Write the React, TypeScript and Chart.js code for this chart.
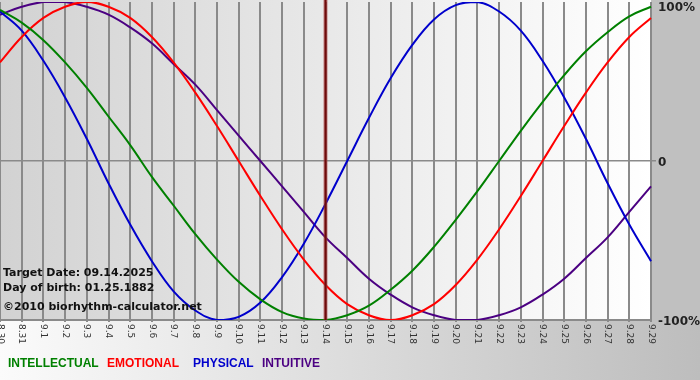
import { useEffect, useRef } from 'react';
import { Chart, registerables } from 'chart.js';

Chart.register(...registerables);

const dayLabels = [
  '8.30', '8.31', '9.1', '9.2', '9.3', '9.4', '9.5', '9.6', '9.7', '9.8', '9.9',
  '9.10', '9.11', '9.12', '9.13', '9.14', '9.15', '9.16', '9.17', '9.18', '9.19',
  '9.20', '9.21', '9.22', '9.23', '9.24', '9.25', '9.26', '9.27', '9.28', '9.29',
];

const intellectual = [
  0.95, 0.87, 0.76, 0.62, 0.46, 0.28, 0.10, -0.10, -0.28, -0.46, -0.62, -0.76, -0.87, -0.95, -0.99,
  -1.00, -0.97, -0.91, -0.81, -0.69, -0.54, -0.37, -0.19, 0, 0.19, 0.37, 0.54, 0.69, 0.81, 0.91, 0.97,
];
const emotional = [
  0.62, 0.78, 0.90, 0.97, 1.00, 0.97, 0.90, 0.78, 0.62, 0.43, 0.22, 0, -0.22, -0.43, -0.62,
  -0.78, -0.90, -0.97, -1.00, -0.97, -0.90, -0.78, -0.62, -0.43, -0.22, 0, 0.22, 0.43, 0.62, 0.78, 0.90,
];
const physical = [
  0.94, 0.82, 0.63, 0.40, 0.14, -0.14, -0.40, -0.63, -0.82, -0.94, -1.00, -0.98, -0.89, -0.73, -0.52,
  -0.27, 0, 0.27, 0.52, 0.73, 0.89, 0.98, 1.00, 0.94, 0.82, 0.63, 0.40, 0.14, -0.14, -0.40, -0.63,
];
const intuitive = [
  0.92, 0.97, 1.00, 1.00, 0.97, 0.92, 0.84, 0.74, 0.61, 0.48, 0.32, 0.16, 0, -0.16, -0.32,
  -0.48, -0.61, -0.74, -0.84, -0.92, -0.97, -1.00, -1.00, -0.97, -0.92, -0.84, -0.74, -0.61, -0.48, -0.32, -0.16,
];

const seriesNames = ['INTELLECTUAL', 'EMOTIONAL', 'PHYSICAL', 'INTUITIVE'];
const seriesColors = ['#008000', '#ff0000', '#0000cc', '#4b0082'];
const seriesData = [intellectual, emotional, physical, intuitive];
const legendX = [8, 107, 193, 262];

const yTickValues = [1, 0, -1];
const yTickLabels = ['100%', '0', '-100%'];

const targetDay = '9.14';
const infoLines = ['Target Date: 09.14.2025', 'Day of birth: 01.25.1882', '©2010 biorhythm-calculator.net'];
const infoBaselines = [276, 291, 310];

export default function App() {
  const ref = useRef<HTMLCanvasElement>(null);

  useEffect(() => {
    document.body.style.margin = '0';
    const canvas = ref.current;
    if (!canvas) return;

    const bgPlugin = {
      id: 'bgPlugin',
      beforeDraw(chart: any) {
        const { ctx, chartArea: a, width, height } = chart;
        ctx.save();
        const g = ctx.createLinearGradient(0, 0, width, 0);
        g.addColorStop(0, '#fbfbfb');
        g.addColorStop(1, '#bdbdbd');
        ctx.fillStyle = g;
        ctx.fillRect(0, 0, width, height);
        ctx.fillStyle = '#c0c0c0';
        ctx.fillRect(a.right, 0, width - a.right, a.bottom + 1);
        const g2 = ctx.createLinearGradient(a.left, 0, a.right, 0);
        g2.addColorStop(0, '#d2d2d2');
        g2.addColorStop(1, '#ffffff');
        ctx.fillStyle = g2;
        ctx.fillRect(a.left, 0, a.right - a.left, a.bottom);
        ctx.restore();
      },
    };

    const targetPlugin = {
      id: 'targetPlugin',
      afterDatasetsDraw(chart: any) {
        const { ctx, chartArea: a, scales } = chart;
        const x = scales.x.getPixelForValue(dayLabels.indexOf(targetDay));
        ctx.save();
        ctx.strokeStyle = 'rgba(170,60,60,0.6)';
        ctx.lineWidth = 4;
        ctx.beginPath();
        ctx.moveTo(x, 0);
        ctx.lineTo(x, a.bottom);
        ctx.stroke();
        ctx.strokeStyle = '#6e0a0a';
        ctx.lineWidth = 2;
        ctx.beginPath();
        ctx.moveTo(x, 0);
        ctx.lineTo(x, a.bottom);
        ctx.stroke();
        ctx.restore();
      },
    };

    const textPlugin = {
      id: 'textPlugin',
      afterDraw(chart: any) {
        const { ctx, chartArea: a, scales } = chart;
        ctx.save();
        ctx.font = '9px "DejaVu Sans"';
        ctx.fillStyle = '#333333';
        ctx.textAlign = 'left';
        ctx.textBaseline = 'middle';
        dayLabels.forEach((lab, i) => {
          const x = scales.x.getPixelForValue(i);
          ctx.save();
          ctx.translate(x, a.bottom + 4);
          ctx.rotate(Math.PI / 2);
          ctx.fillText(lab, 0, 0);
          ctx.restore();
        });
        ctx.font = 'bold 12px "DejaVu Sans"';
        ctx.fillStyle = '#222222';
        yTickValues.forEach((v, i) => {
          const py = scales.y.getPixelForValue(v);
          const y = Math.max(py + 1.5, 8);
          ctx.fillText(yTickLabels[i], a.right + 7, y);
        });
        ctx.font = 'bold 11px "DejaVu Sans"';
        ctx.fillStyle = '#111111';
        ctx.textBaseline = 'alphabetic';
        infoLines.forEach((t, i) => ctx.fillText(t, 3, infoBaselines[i]));
        ctx.font = 'bold 12px "Liberation Sans"';
        seriesNames.forEach((n, i) => {
          ctx.fillStyle = seriesColors[i];
          ctx.fillText(n, legendX[i], 367);
        });
        ctx.restore();
      },
    };

    const chart = new Chart(canvas, {
      type: 'line',
      data: {
        labels: dayLabels,
        datasets: seriesData.map((d, i) => ({
          label: seriesNames[i],
          data: d,
          borderColor: seriesColors[i],
          backgroundColor: seriesColors[i],
          borderWidth: 2,
          pointRadius: 0,
          fill: false,
          tension: 0.4,
        })),
      },
      options: {
        animation: false,
        responsive: false,
        maintainAspectRatio: false,
        layout: { padding: { top: 2, left: 0, right: 0, bottom: 0 } },
        plugins: { legend: { display: false }, tooltip: { enabled: false } },
        scales: {
          x: {
            offset: false,
            grid: { color: '#8a8a8a', lineWidth: 2, tickLength: 2, drawTicks: true },
            border: { display: true, color: '#8a8a8a', width: 2 },
            ticks: { display: false },
            afterFit(s: any) { s.height = 60; },
          },
          y: {
            position: 'right',
            min: -1,
            max: 1,
            ticks: { display: false, stepSize: 1 },
            grid: {
              color: (c: any) => (c.tick && c.tick.value === 0 ? '#8a8a8a' : 'rgba(0,0,0,0)'),
              lineWidth: 1.5,
              tickLength: 5,
            },
            border: { display: false },
            afterFit(s: any) { s.width = 49; },
          },
        },
      },
      plugins: [bgPlugin, targetPlugin, textPlugin],
    });
    return () => chart.destroy();
  }, []);

  return <canvas ref={ref} width={700} height={380} style={{ display: 'block' }} />;
}
